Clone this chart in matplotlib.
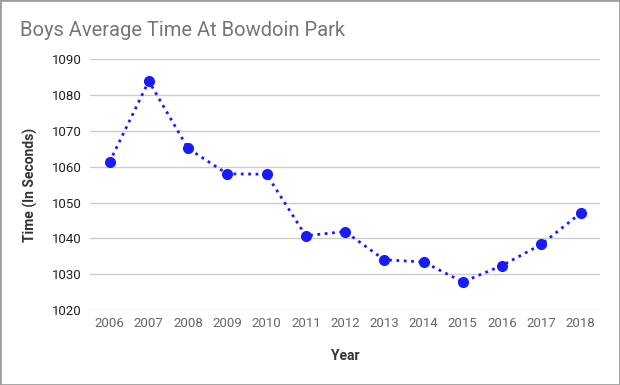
import matplotlib.pyplot as plt
from matplotlib.patches import Rectangle

years = [2006, 2007, 2008, 2009, 2010, 2011, 2012, 2013, 2014, 2015, 2016, 2017, 2018]
avg_time = [1061.3, 1083.9, 1065.1, 1058.0, 1057.9, 1040.7, 1041.9,
            1034.0, 1033.4, 1027.8, 1032.4, 1038.3, 1047.0]
y_ticks = [1020, 1030, 1040, 1050, 1060, 1070, 1080, 1090]

plt.rcParams['font.family'] = ['Roboto', 'DejaVu Sans']

fig = plt.figure(figsize=(6.2, 3.85), dpi=100)
fig.patches.append(Rectangle((0, 0), 1, 1, transform=fig.transFigure,
                             fill=False, edgecolor='#9e9e9e', linewidth=2))
ax = fig.add_axes([0.145, 0.195, 0.823, 0.651])

ax.plot(years, avg_time, linestyle=':', linewidth=2, color='#1a1aff',
        marker='o', markersize=7, markerfacecolor='#1a1aff',
        markeredgecolor='#1a1aff', zorder=3)

ax.set_xlim(2005.5, 2018.5)
ax.set_ylim(1020, 1090)
ax.set_xticks(years)
ax.set_yticks(y_ticks)
ax.grid(True, axis='y', color='#cccccc', linewidth=1)
ax.set_axisbelow(True)
for s in ax.spines.values():
    s.set_visible(False)
ax.tick_params(axis='both', length=0)
ax.tick_params(axis='x', labelsize=9.5, labelcolor='#666666', pad=5)
ax.tick_params(axis='y', labelsize=9.5, labelcolor='#222222', pad=6)

ax.set_xlabel('Year', fontsize=10, fontweight='bold', color='#333333', labelpad=14)
ax.set_ylabel('Time (In Seconds)', fontsize=10, fontweight='bold', color='#333333', labelpad=10)

fig.text(0.032, 0.922, 'Boys Average Time At Bowdoin Park', fontsize=14.5,
         color='#757575', va='center', ha='left')

fig.savefig('out.png', dpi=100)
